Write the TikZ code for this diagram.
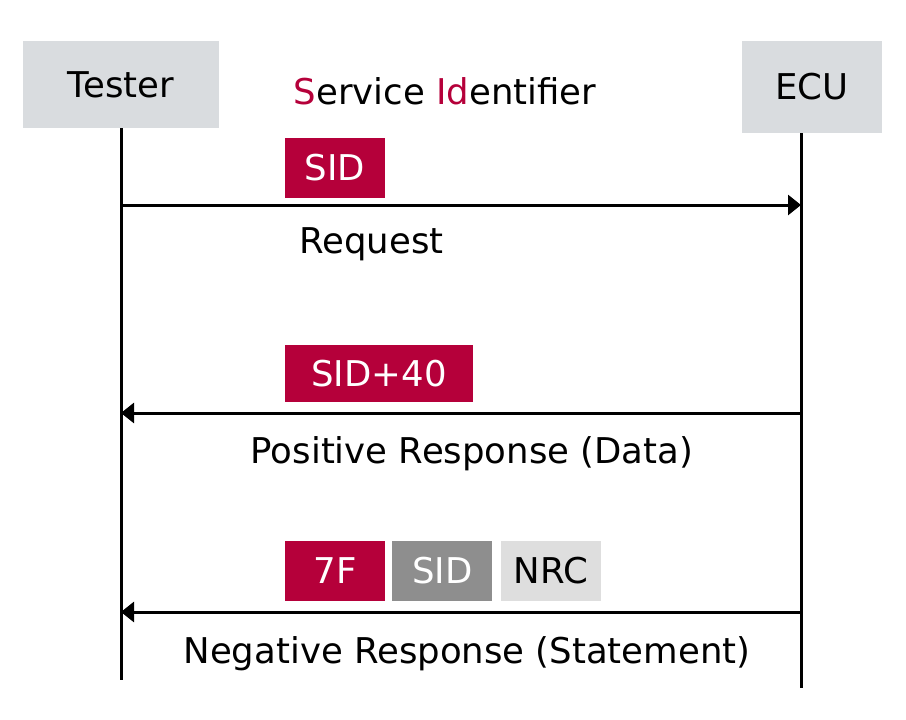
\documentclass[tikz,border=0pt]{standalone}
\usepackage{fontspec}
\setmainfont{DejaVu Sans}
\usetikzlibrary{positioning,arrows.meta}
\definecolor{sidred}{HTML}{B5003A}
\definecolor{hdr}{HTML}{D9DCDF}
\definecolor{midgray}{HTML}{8E8E8E}
\definecolor{litegray}{HTML}{DEDEDE}
\newcommand{\diafont}{\fontsize{35.5}{42}\selectfont}
\tikzset{
  ent/.style={fill=hdr,inner sep=0pt,font=\diafont},
  fld/.style={fill=sidred,text=white,inner sep=0pt,minimum height=60pt,font=\diafont},
  life/.style={line width=3pt},
  msg/.style={-{Triangle[length=13pt,width=20pt]},line width=3pt},
  lab/.style={font=\diafont,inner sep=0pt},
}

\begin{document}
\begin{tikzpicture}[x=1pt,y=-1pt,node distance=7pt]
\useasboundingbox (0,0) rectangle (906,720);
% the two parties
\node[ent,minimum width=196pt,minimum height=87pt] (tester) at (121,84.5) {Tester};
\node[ent,minimum width=140pt,minimum height=92pt] (ecu) at (812,87) {ECU};
\node[lab] (title) at (445,91) {\textcolor{sidred}{S}ervice \textcolor{sidred}{Id}entifier};
\coordinate (tend) at (121,680);
\coordinate (eend) at (801,688);
\draw[life] (tester.south) -- (tend);
\draw[life] (ecu.south -| eend) -- (eend);
% request
\coordinate (reqT) at (121,205);
\coordinate (reqE) at (801,205);
\draw[msg] (reqT) -- (reqE);
\node[fld,minimum width=100pt] (sid) at (335,168) {SID};
\node[lab] (req) at (371.5,244) {Request};
% positive response
\coordinate (posT) at (121,413);
\coordinate (posE) at (801,413);
\draw[msg] (posE) -- (posT);
\node[fld,minimum width=188pt,minimum height=57pt] (sidpos) at (379,373.5) {SID+40};
\node[lab] (pos) at (472,454) {Positive Response (Data)};
% negative response
\coordinate (negT) at (121,612);
\coordinate (negE) at (801,612);
\draw[msg] (negE) -- (negT);
\node[fld,minimum width=100pt] (nf) at (335,571) {7F};
\node[fld,fill=midgray,minimum width=100pt,right=of nf] (sidneg) {SID};
\node[fld,fill=litegray,text=black,minimum width=100pt,right=8pt of sidneg] (nrc) {NRC};
\node[lab] (neg) at (467,654) {Negative Response (Statement)};
\end{tikzpicture}
\end{document}
